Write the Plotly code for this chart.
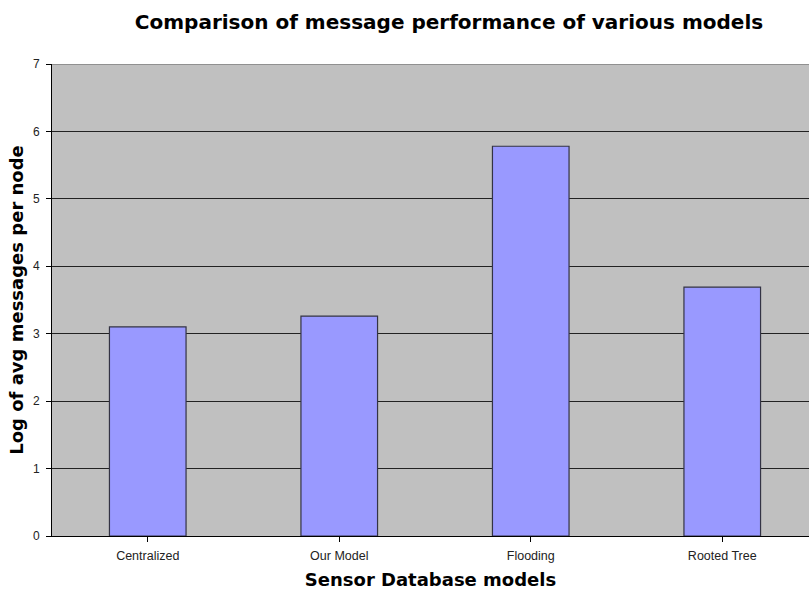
import plotly.graph_objects as go

# Message cost per model (log of average messages per node)
models = ["Centralized", "Our Model", "Flooding", "Rooted Tree"]
log_avg_messages = [3.10, 3.26, 5.78, 3.69]
y_ticks = [0, 1, 2, 3, 4, 5, 6, 7]

FONT = "Liberation Sans, Arial, sans-serif"
WIDE = "DejaVu Sans, Verdana, sans-serif"

fig = go.Figure(
    go.Bar(
        x=list(range(len(models))),
        y=log_avg_messages,
        width=0.4,
        marker=dict(color="#9999FF", line=dict(color="#333344", width=1.2)),
        hoverinfo="skip",
    )
)

fig.update_layout(
    width=809,
    height=590,
    margin=dict(l=52, r=0, t=64, b=54),
    paper_bgcolor="white",
    plot_bgcolor="#C0C0C0",
    showlegend=False,
    font=dict(family=FONT, color="black"),
    title=dict(
        text="<b>Comparison of message performance of various models</b>",
        x=449 / 809, xanchor="center",
        y=1 - 22 / 590, yanchor="middle",
        font=dict(size=20, family=WIDE, color="black"),
    ),
)

fig.update_xaxes(
    range=[-0.5, 3.453],
    tickmode="array",
    tickvals=list(range(len(models))),
    ticktext=models,
    tickson="boundaries",
    ticks="outside",
    ticklen=5,
    tickcolor="black",
    tickfont=dict(size=12.5, color="#222222"),
    ticklabelstandoff=3,
    showline=True,
    linecolor="black",
    linewidth=1,
    showgrid=False,
    zeroline=False,
    title=dict(
        text="<b>Sensor Database models</b>",
        font=dict(size=18, family=WIDE, color="black"),
        standoff=11,
    ),
)

fig.update_yaxes(
    range=[0, 7],
    tickmode="array",
    tickvals=y_ticks,
    ticks="outside",
    ticklen=5,
    tickcolor="black",
    tickfont=dict(size=12, color="#222222"),
    ticklabelstandoff=4,
    showline=True,
    linecolor="black",
    linewidth=1,
    showgrid=True,
    gridcolor="#222222",
    gridwidth=1,
    zeroline=False,
    title=dict(
        text="<b>Log of avg messages per node</b>",
        font=dict(size=18, family=WIDE, color="black"),
        standoff=4,
    ),
)

# Light plot-area border along the top edge
fig.add_shape(
    type="line", xref="paper", yref="y",
    x0=0, x1=1, y0=7, y1=7,
    line=dict(color="#808080", width=1.5),
)

fig.write_html("out.html")
